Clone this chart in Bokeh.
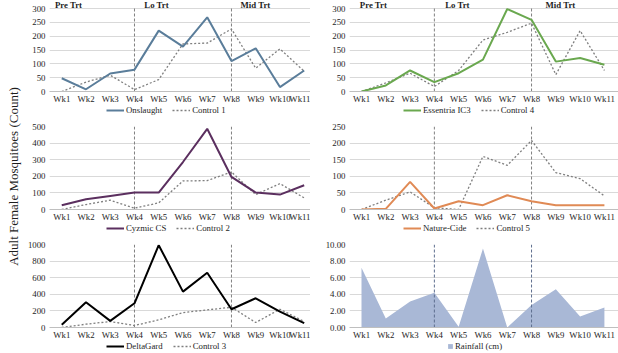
import math
from bokeh.plotting import figure
from bokeh.models import (Range1d, FixedTicker, Label, Legend, LegendItem,
                          NumeralTickFormatter)
from bokeh.layouts import row, column
from bokeh.embed import file_html
from bokeh.resources import INLINE

weeks = list(range(1, 12))
week_labels = ["Wk1", "Wk2", "Wk3", "Wk4", "Wk5", "Wk6", "Wk7", "Wk8", "Wk9", "Wk10", "Wk11"]

onslaught = [48, 8, 65, 79, 220, 162, 268, 110, 156, 16, 76]
control1 = [0, 34, 59, 7, 43, 172, 175, 226, 84, 154, 73]
essentria = [0, 22, 76, 34, 66, 115, 298, 259, 108, 121, 97]
control4 = [0, 31, 66, 18, 76, 186, 214, 247, 61, 220, 76]
cyzmic = [26, 62, 82, 102, 102, 286, 486, 196, 102, 90, 146]
control2 = [0, 30, 56, 8, 40, 172, 174, 226, 90, 156, 70]
naturecide = [0, 2, 83, 3, 25, 13, 43, 25, 13, 13, 13]
control5 = [0, 28, 53, 5, 0, 160, 133, 208, 111, 93, 41]
deltagard = [32, 304, 80, 292, 992, 432, 660, 220, 352, 192, 52]
control3 = [0, 40, 72, 24, 92, 180, 212, 244, 60, 220, 72]
rainfall = [7.2, 1.08, 3.12, 4.2, 0.08, 9.52, 0.0, 2.72, 4.6, 1.32, 2.4]

phase_bounds = [4, 8]
phase_labels = ["Pre Trt", "Lo Trt", "Mid Trt"]
phase_pos_left = [1.28, 4.91, 8.99]
phase_pos_right = [1.49, 4.95, 9.19]

FONT = "Liberation Serif"
TXT = "#1e1e1e"
CTRL = "#7f7f7f"
COLORS = {"Onslaught": "#5a7d9a", "Essentria IC3": "#6aa84f", "Cyzmic CS": "#5b2f5f",
          "Nature-Cide": "#e08a55", "DeltaGard": "#000000"}
RAIN_COLOR = "#a9b8d6"

LW, RW = 288, 308     # figure widths
LFW, RFW = 261, 269   # frame widths
FH = 83               # frame height (0 .. max tick)
LEG_H = 10


def panel(left, top, xend, ymax, ystep, fmt=None, extra=0):
    xstart = 0.495 if left else 0.506
    yend = ymax * (1 + extra / FH)
    p = figure(frame_width=LFW if left else RFW, frame_height=FH + extra,
               x_range=Range1d(xstart, xend), y_range=Range1d(0, yend),
               output_backend="svg", toolbar_location=None,
               min_border_left=27 if left else 39, min_border_right=0,
               min_border_top=top, min_border_bottom=8)
    p.outline_line_color = None
    p.xgrid.visible = False
    p.ygrid.grid_line_color = "#d9d9d9"
    p.xaxis.ticker = FixedTicker(ticks=weeks)
    p.xaxis.major_label_overrides = {i: lab for i, lab in zip(weeks, week_labels)}
    p.yaxis.ticker = FixedTicker(ticks=list(range(0, ymax + 1, ystep)))
    if fmt:
        p.yaxis.formatter = NumeralTickFormatter(format=fmt)
    for ax in (p.xaxis[0], p.yaxis[0]):
        ax.major_tick_line_color = None
        ax.minor_tick_line_color = None
        ax.major_tick_out = 0
        ax.major_tick_in = 0
        ax.major_label_text_font = FONT
        ax.major_label_text_font_size = "8.8px"
        ax.major_label_text_color = TXT
    p.xaxis.major_label_standoff = 2
    p.xaxis.axis_line_color = "#bfbfbf"
    p.yaxis.axis_line_color = None
    p.yaxis.major_label_standoff = 4
    return p


def bounds(p, ymax, color="#808080"):
    p.segment(x0=phase_bounds, y0=[0] * len(phase_bounds), x1=phase_bounds,
              y1=[ymax] * len(phase_bounds), line_color=color, line_dash="3 2",
              line_width=1)


def legend_fig(width, entries, x):
    f = figure(width=width, height=LEG_H, x_range=Range1d(0, 1), y_range=Range1d(0, 1),
               output_backend="svg", toolbar_location=None, min_border=0)
    f.axis.visible = False
    f.grid.visible = False
    f.outline_line_color = None
    items = []
    for name, kind in entries:
        if kind == "treat":
            r = f.line([-5, -4], [-5, -4], line_color=COLORS[name], line_width=2)
        elif kind == "ctrl":
            r = f.line([-5, -4], [-5, -4], line_color=CTRL, line_width=1.3, line_dash="2 2")
        else:
            r = f.varea(x=[-5, -4], y1=[-5, -5], y2=[-4, -4], fill_color=RAIN_COLOR)
        items.append(LegendItem(label=name, renderers=[r]))
    lg = Legend(items=items, orientation="horizontal", location=(x, 1),
                label_text_font=FONT, label_text_font_size="8.8px", label_text_color=TXT,
                glyph_width=18, glyph_height=8, label_height=8, label_standoff=2,
                spacing=10, padding=0, margin=0, border_line_color=None,
                background_fill_alpha=0)
    if entries[0][1] == "area":
        lg.glyph_width = 6
        lg.glyph_height = 6
    f.add_layout(lg, "center")
    return f


def pair(p, treat, ctrl, tname, ymax):
    bounds(p, ymax)
    p.line(weeks, ctrl, line_color=CTRL, line_width=1.3, line_dash="2 2")
    p.line(weeks, treat, line_color=COLORS[tname], line_width=2)


def phases(p, pos, ymax):
    for x, t in zip(pos, phase_labels):
        p.add_layout(Label(x=x, y=ymax * (1 + 3.2 / FH), text=t, text_font=FONT,
                           text_font_size="8.8px", text_font_style="bold",
                           text_color=TXT, text_align="center", text_baseline="middle"))


# top row
p1 = panel(True, 1, 11.26, 300, 50, extra=7)
pair(p1, onslaught, control1, "Onslaught", 300)
phases(p1, phase_pos_left, 300)
p2 = panel(False, 1, 11.58, 300, 50, extra=7)
pair(p2, essentria, control4, "Essentria IC3", 300)
phases(p2, phase_pos_right, 300)
l1 = legend_fig(LW, [("Onslaught", "treat"), ("Control 1", "ctrl")], 84)
l2 = legend_fig(RW, [("Essentria IC3", "treat"), ("Control 4", "ctrl")], 93)

# middle row
p3 = panel(True, 10, 11.26, 500, 100)
pair(p3, cyzmic, control2, "Cyzmic CS", 500)
p4 = panel(False, 10, 11.58, 250, 50)
pair(p4, naturecide, control5, "Nature-Cide", 250)
l3 = legend_fig(LW, [("Cyzmic CS", "treat"), ("Control 2", "ctrl")], 84)
l4 = legend_fig(RW, [("Nature-Cide", "treat"), ("Control 5", "ctrl")], 93)

# bottom row
p5 = panel(True, 10, 11.26, 1000, 200)
pair(p5, deltagard, control3, "DeltaGard", 1000)
p6 = panel(False, 10, 11.58, 10, 2, fmt="0.00")
p6.varea(x=weeks, y1=[0] * len(weeks), y2=rainfall, fill_color=RAIN_COLOR)
bounds(p6, 10, color="#5d6e8e")
l5 = legend_fig(LW, [("DeltaGard", "treat"), ("Control 3", "ctrl")], 84)
l6 = legend_fig(RW, [("Rainfall (cm)", "area")], 137)

# y title
lab = figure(width=22, height=353, x_range=Range1d(0, 22), y_range=Range1d(0, 353),
             output_backend="svg", toolbar_location=None, min_border=0)
lab.axis.visible = False
lab.grid.visible = False
lab.outline_line_color = None
lab.add_layout(Label(x=13, y=177, text="Adult Female Mosquitoes (Count)", angle=math.pi / 2,
                     text_font=FONT, text_font_size="13px", text_color=TXT,
                     text_align="center", text_baseline="middle"))

layout = row(lab, column(row(p1, p2), row(l1, l2), row(p3, p4), row(l3, l4),
                         row(p5, p6), row(l5, l6)))
open("out.html", "w").write(file_html(layout, INLINE))
